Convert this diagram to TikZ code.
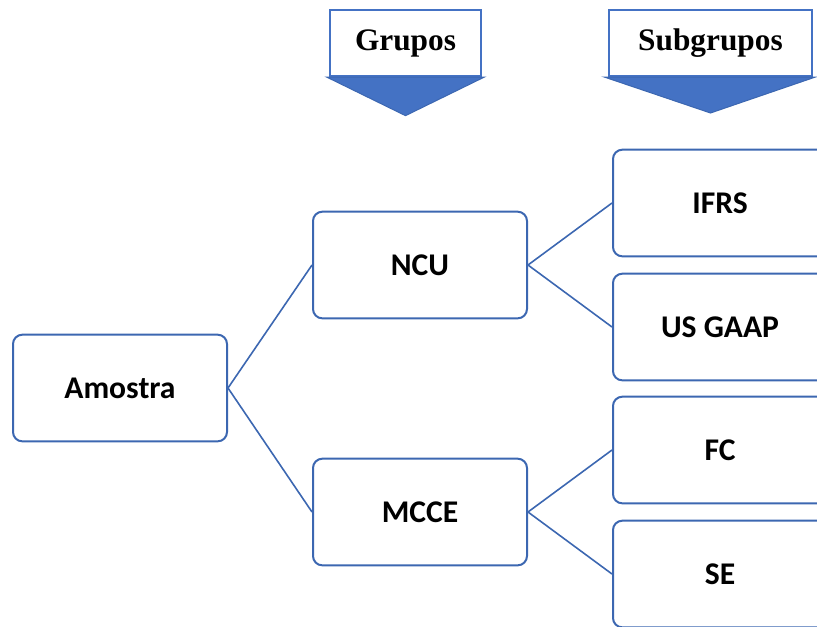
\documentclass[tikz,border=0pt]{standalone}
\usepackage{fontspec}
\setmainfont{Liberation Serif}
\newfontfamily\caixafont{Carlito}
\usetikzlibrary{positioning}
\definecolor{azulseta}{HTML}{4472C4}
\definecolor{azulborda}{HTML}{3C67B1}

\begin{document}
\begin{tikzpicture}[x=0.75pt,y=-0.75pt,
    caixa/.style={draw=azulborda, line width=1.5pt, rounded corners=7pt,
        minimum width=160.5pt, minimum height=80pt,
        font=\caixafont\bfseries\fontsize{23.7}{26}\selectfont},
    titulo/.style={draw=azulseta, line width=1.5pt, minimum height=49.5pt,
        font=\bfseries\fontsize{23.5}{26}\selectfont},
    seta/.style={fill=azulseta, draw=azulborda, line width=0.75pt},
    liga/.style={draw=azulborda, line width=1.2pt}]
    \useasboundingbox (0,0) rectangle (817,626);
    \clip (0,0) rectangle (817,626);

    % cabecalhos
    \node[titulo, minimum width=113pt] (grupos) at (405.5,43) {Grupos};
    \node[titulo, minimum width=152pt] (subgrupos) at (710.5,43) {Subgrupos};
    \path[seta] ([xshift=-2pt]grupos.south west) -- ([xshift=2pt]grupos.south east)
        -- ([yshift=-29pt]grupos.south) -- cycle;
    \path[seta] ([xshift=-3pt]subgrupos.south west) -- ([xshift=2pt]subgrupos.south east)
        -- ([yshift=-27pt]subgrupos.south) -- cycle;

    % arvore
    \node[caixa] (amostra) at (120,388) {Amostra};
    \node[caixa] (ncu) at (420,265) {NCU};
    \node[caixa] (mcce) at (420,512) {MCCE};
    \node[caixa] (ifrs) at (720,203) {IFRS};
    \node[caixa] (usgaap) at (720,327) {US GAAP};
    \node[caixa] (fc) at (720,450) {FC};
    \node[caixa] (se) at (720,574) {SE};

    \draw[liga] (amostra.east) -- (ncu.west);
    \draw[liga] (amostra.east) -- (mcce.west);
    \draw[liga] (ncu.east) -- (ifrs.west);
    \draw[liga] (ncu.east) -- (usgaap.west);
    \draw[liga] (mcce.east) -- (fc.west);
    \draw[liga] (mcce.east) -- (se.west);
\end{tikzpicture}
\end{document}
